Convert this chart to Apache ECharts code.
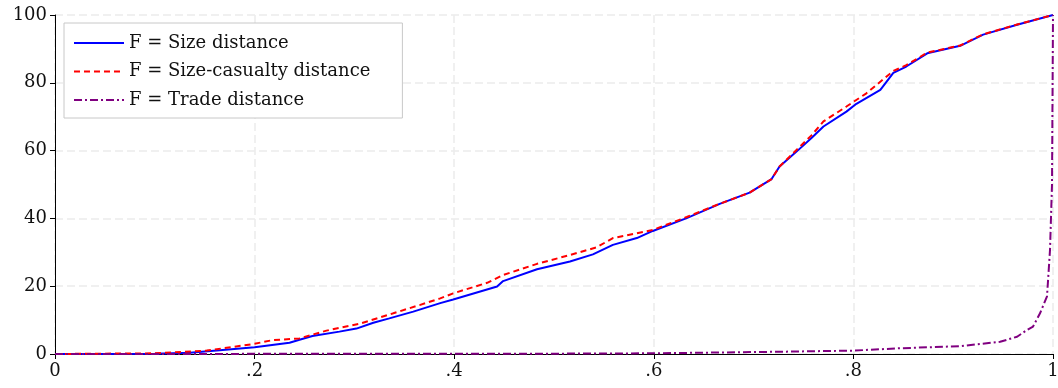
<!DOCTYPE html>
<html>
<head>
<meta charset="utf-8">
<script src="https://cdn.jsdelivr.net/npm/echarts@6/dist/echarts.min.js"></script>
<style>
  html, body { margin: 0; padding: 0; background: #fff; }
  #cdfchart { width: 1058px; height: 388px; }
</style>
</head>
<body>
<div id="cdfchart"></div>
<script>
// values (x = share, y = cumulative %)
var sizeX = [0, 0.05, 0.10, 0.135, 0.168, 0.2, 0.235, 0.245, 0.258, 0.285, 0.302, 0.319, 0.335, 0.359, 0.386, 0.399, 0.443, 0.449, 0.483, 0.516, 0.539, 0.559, 0.583, 0.599, 0.633, 0.666, 0.696, 0.718, 0.726, 0.743, 0.758, 0.770, 0.793, 0.803, 0.827, 0.840, 0.853, 0.874, 0.907, 0.930, 0.964, 1.0];
var sizeY = [0, 0, 0.1, 0.4, 1.2, 2.0, 3.3, 4.2, 5.3, 6.6, 7.5, 9.2, 10.5, 12.5, 15, 16.1, 19.9, 21.5, 25, 27.3, 29.4, 32.2, 34.2, 36.3, 40.1, 44.3, 47.6, 51.6, 55.3, 59.7, 63.7, 67.1, 71.5, 73.8, 77.9, 82.9, 84.8, 88.7, 90.9, 94.2, 97.1, 100];

var casX = [0, 0.1, 0.152, 0.2, 0.218, 0.245, 0.272, 0.305, 0.339, 0.366, 0.386, 0.399, 0.433, 0.449, 0.483, 0.516, 0.543, 0.559, 0.599, 0.633, 0.666, 0.696, 0.718, 0.726, 0.743, 0.758, 0.770, 0.793, 0.813, 0.840, 0.853, 0.874, 0.907, 0.930, 0.964, 1.0];
var casY = [0, 0.2, 1.0, 3.0, 4.1, 4.6, 6.9, 8.9, 12, 14.5, 16.4, 17.9, 21, 23.3, 26.6, 29.2, 31.5, 34.2, 36.6, 40.4, 44.3, 47.6, 51.6, 55.3, 60.2, 64.5, 68.6, 73, 76.9, 83.5, 85.2, 88.9, 91, 94.3, 97.2, 100];

var tradeX = [0, 0.5, 0.6, 0.733, 0.8, 0.847, 0.907, 0.947, 0.964, 0.974, 0.98, 0.987, 0.994, 0.997, 0.999, 1.0];
var tradeY = [0, 0.1, 0.2, 0.7, 1.0, 1.7, 2.3, 3.6, 5.1, 7.1, 8.1, 12, 17, 30.7, 50, 100];

var names = ['F = Size distance', 'F = Size-casualty distance', 'F = Trade distance'];

function pairs(xs, ys) {
  var out = [];
  for (var i = 0; i < xs.length; i++) out.push([xs[i], ys[i]]);
  return out;
}

var serifFont = 'DejaVu Serif';
var gridLine = { color: '#ebebeb', type: [8, 4], width: 1.5 };

var cdfoption = {
  animation: false,
  backgroundColor: '#fff',
  grid: {
    left: 55,
    right: 5,
    top: 15,
    bottom: 34,
    outerBoundsMode: 'none'
  },
  legend: {
    orient: 'vertical',
    left: 64,
    top: 23,
    padding: [10, 32, 8, 9],
    itemWidth: 50,
    itemHeight: 14,
    itemGap: 8.5,
    borderColor: '#c8c8c8',
    borderWidth: 1,
    backgroundColor: '#fff',
    itemStyle: { opacity: 0 },
    textStyle: {
      fontFamily: serifFont,
      fontSize: 18,
      color: '#111',
      lineHeight: 20
    },
    data: names
  },
  xAxis: {
    type: 'value',
    min: 0,
    max: 1,
    interval: 0.2,
    axisLine: { lineStyle: { color: '#000', width: 1 } },
    axisTick: { length: 5, lineStyle: { color: '#000' } },
    axisLabel: {
      fontFamily: serifFont,
      fontSize: 18,
      color: '#111',
      margin: 8,
      formatter: function (v) {
        if (v === 0) return '0';
        if (v >= 0.999) return '1';
        return v.toFixed(1).replace('0.', '.');
      }
    },
    splitLine: { show: true, lineStyle: gridLine }
  },
  yAxis: {
    type: 'value',
    min: 0,
    max: 100,
    interval: 20,
    axisLine: { show: true, lineStyle: { color: '#000', width: 1 } },
    axisTick: { show: true, length: 5, lineStyle: { color: '#000' } },
    axisLabel: {
      fontFamily: serifFont,
      fontSize: 18,
      color: '#111',
      margin: 8
    },
    splitLine: { show: true, lineStyle: gridLine }
  },
  series: [
    {
      name: names[0],
      type: 'line',
      symbol: 'none',
      data: pairs(sizeX, sizeY),
      color: '#0000ff',
      lineStyle: { color: '#0000ff', width: 2 }
    },
    {
      name: names[1],
      type: 'line',
      symbol: 'none',
      data: pairs(casX, casY),
      color: '#ff0000',
      lineStyle: { color: '#ff0000', width: 2, type: [6, 4] }
    },
    {
      name: names[2],
      type: 'line',
      symbol: 'none',
      data: pairs(tradeX, tradeY),
      color: '#800080',
      lineStyle: { color: '#800080', width: 2, type: [8, 3, 2, 3] }
    }
  ]
};

var cdfdom = document.getElementById('cdfchart');
var cdfChart = echarts.init(cdfdom);
cdfoption && cdfChart.setOption(cdfoption);
</script>
</body>
</html>
